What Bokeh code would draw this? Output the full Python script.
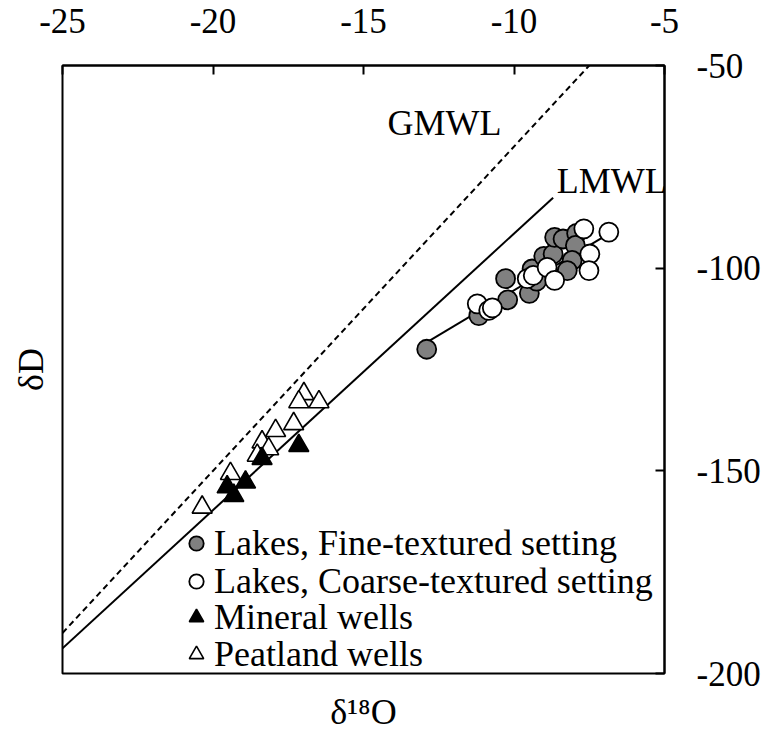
import numpy as np
from bokeh.plotting import figure
from bokeh.models import Legend, LegendItem, Label, Range1d, FixedTicker, LinearAxis
from bokeh.embed import file_html
from bokeh.resources import INLINE

FONT = "Liberation Serif"

# ---- axis ticks ----
x_ticks = [-25, -20, -15, -10, -5]
x_tick_labels = ["-25", "-20", "-15", "-10", "-5"]
y_ticks = [-200, -150, -100, -50]
y_tick_labels = ["-200", "-150", "-100", "-50"]

# ---- data (delta18O, deltaD) ----
fine_x = [-12.9, -11.17, -10.28, -10.21, -9.49, -9.40, -9.25, -9.01, -8.70,
          -8.65, -8.37, -7.92, -7.96, -8.07, -8.23]
fine_y = [-120.0, -111.7, -102.6, -107.8, -106.2, -100.2, -103.2, -97.1, -96.5,
          -92.4, -92.8, -91.4, -94.4, -98.1, -100.6]

coarse_x = [-11.22, -10.84, -10.72, -9.56, -9.36, -8.90, -8.65, -7.68, -6.85,
            -7.48, -7.51]
coarse_y = [-108.8, -110.4, -109.8, -102.6, -101.8, -99.8, -103.0, -90.3, -91.1,
            -96.5, -100.6]

mineral_x = [-17.15, -18.37, -18.92, -19.53, -19.31]
mineral_y = [-143.8, -147.0, -152.8, -154.0, -156.1]

peat_x = [-16.98, -17.15, -16.48, -17.32, -17.92, -18.37, -18.15, -18.53, -19.42, -20.36]
peat_y = [-131.0, -133.0, -133.0, -138.4, -140.1, -142.9, -144.6, -146.2, -150.7, -159.0]

gmwl_x = [-25.0, -7.5]
gmwl_y = [-190.0, -50.0]
lmwl_x = [-25.0, -8.7]
lmwl_y = [-193.8, -82.6]
evap_x = [-12.9, -6.8]
evap_y = [-118.3, -91.3]

legend_labels = ["Lakes, Fine-textured setting", "Lakes, Coarse-textured setting",
                 "Mineral wells", "Peatland wells"]

p = figure(frame_width=602, frame_height=608,
           x_range=Range1d(-25, -5), y_range=Range1d(-200, -50),
           x_axis_location="above", y_axis_location="right",
           output_backend="svg", toolbar_location=None,
           min_border_left=62, min_border_right=105,
           min_border_top=65, min_border_bottom=65)

p.xgrid.visible = False
p.ygrid.visible = False
p.outline_line_color = "black"
p.outline_line_width = 2
p.background_fill_color = "white"
p.border_fill_color = "white"

p.xaxis.ticker = FixedTicker(ticks=x_ticks)
p.yaxis.ticker = FixedTicker(ticks=y_ticks)
p.xaxis.major_label_overrides = dict(zip(x_ticks, x_tick_labels))
p.yaxis.major_label_overrides = dict(zip(y_ticks, y_tick_labels))
for ax in (p.xaxis, p.yaxis):
    ax.axis_line_width = 2
    ax.axis_line_color = "black"
    ax.major_tick_in = 9
    ax.major_tick_out = 0
    ax.major_tick_line_width = 2
    ax.major_tick_line_color = "black"
    ax.minor_tick_line_color = None
    ax.major_label_text_font = FONT
    ax.major_label_text_font_size = "35px"
    ax.major_label_text_color = "black"
p.xaxis.major_label_standoff = 33
p.yaxis.major_label_standoff = 32

# axis titles on blank axes
ax_left = LinearAxis(ticker=FixedTicker(ticks=[]), axis_label="δD",
                     axis_line_color=None, major_tick_line_color=None,
                     minor_tick_line_color=None, major_label_text_font_size="0px",
                     major_label_standoff=0, axis_label_standoff=12,
                     axis_label_text_font=FONT, axis_label_text_font_size="36px",
                     axis_label_text_font_style="normal", axis_label_text_color="black")
p.add_layout(ax_left, "left")
ax_below = LinearAxis(ticker=FixedTicker(ticks=[]), axis_label="δ¹⁸O",
                      axis_line_color=None, major_tick_line_color=None,
                      minor_tick_line_color=None, major_label_text_font_size="0px",
                      major_label_standoff=0, axis_label_standoff=18,
                      axis_label_text_font=FONT, axis_label_text_font_size="36px",
                      axis_label_text_font_style="normal", axis_label_text_color="black")
p.add_layout(ax_below, "below")

# lines
p.line(gmwl_x, gmwl_y, line_color="black", line_width=2, line_dash="6 4")
p.line(lmwl_x, lmwl_y, line_color="black", line_width=2)
p.line(evap_x, evap_y, line_color="black", line_width=2)

# points
r_peat = p.scatter(peat_x, peat_y, marker="triangle", size=20, fill_color="white",
                   line_color="black", line_width=1.6)
r_min = p.scatter(mineral_x, mineral_y, marker="triangle", size=20, fill_color="black",
                  line_color="black", line_width=1.6)
r_fine = p.scatter(fine_x, fine_y, marker="circle", size=19, fill_color="#808080",
                   line_color="black", line_width=1.8)
r_coarse = p.scatter(coarse_x, coarse_y, marker="circle", size=19, fill_color="white",
                     line_color="black", line_width=1.8)

# one legend per row so the rows sit where the reference has them
row_offsets = [109, 71, 35, -2]
for lab, rend, yoff in zip(legend_labels, [r_fine, r_coarse, r_min, r_peat], row_offsets):
    lg = Legend(items=[LegendItem(label=lab, renderers=[rend])], location=(116, yoff))
    lg.background_fill_alpha = 0
    lg.border_line_alpha = 0
    lg.padding = 0
    lg.margin = 0
    lg.spacing = 0
    lg.glyph_width = 36
    lg.glyph_height = 36
    lg.label_height = 36
    lg.label_standoff = 0
    lg.label_text_font = FONT
    lg.label_text_font_size = "36px"
    lg.label_text_color = "black"
    lg.label_text_baseline = "middle"
    p.add_layout(lg)

# line labels
p.add_layout(Label(x=-14.2, y=-64.3, text="GMWL", text_font=FONT, text_font_size="36px",
                   text_align="left", text_baseline="alphabetic", text_color="black"))
p.add_layout(Label(x=-8.58, y=-78.4, text="LMWL", text_font=FONT, text_font_size="36px",
                   text_align="left", text_baseline="alphabetic", text_color="black"))

open("out.html", "w").write(file_html(p, INLINE))
